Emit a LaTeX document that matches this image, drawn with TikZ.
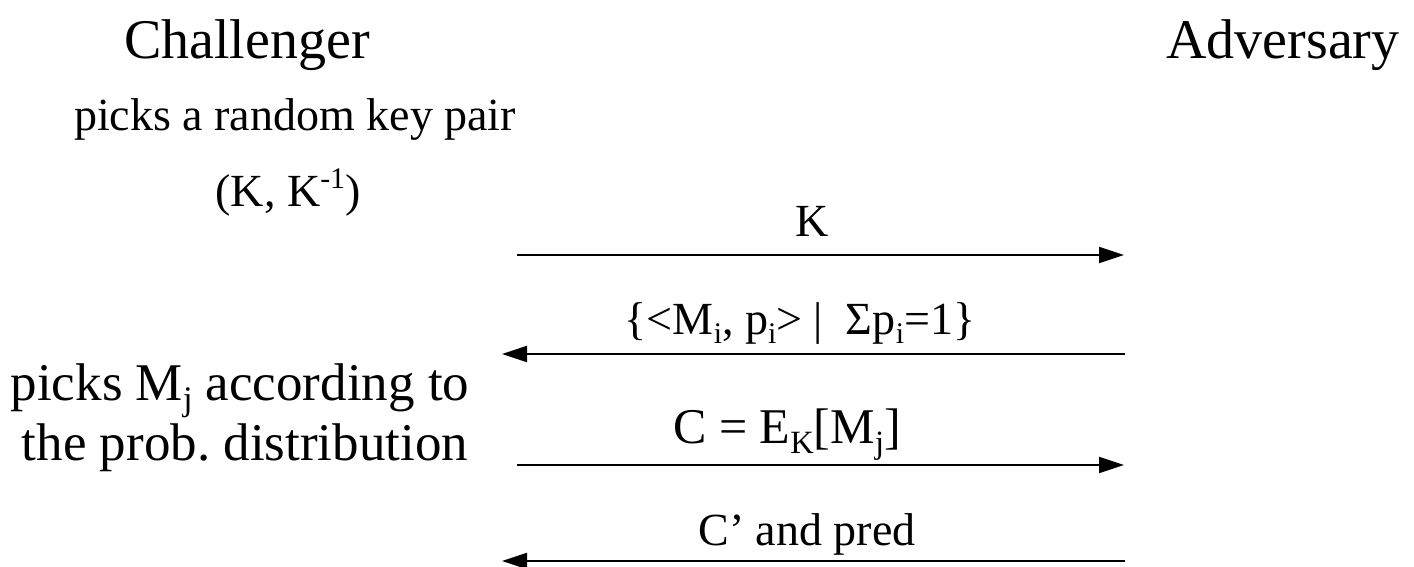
\documentclass[tikz,border=0pt]{standalone}
\usepackage{fontspec}
\setmainfont{Liberation Serif}
\usetikzlibrary{arrows.meta}
\newcommand{\dn}[1]{\raisebox{-0.2em}{\scalebox{0.65}{#1}}}
\newcommand{\up}[1]{\raisebox{0.4em}{\scalebox{0.65}{#1}}}

\begin{document}
\begin{tikzpicture}[x=1pt,y=-1pt,
  big/.style={font=\fontsize{56}{60}\selectfont, inner sep=0pt, anchor=base},
  txt/.style={font=\fontsize{46}{52}\selectfont, inner sep=0pt, anchor=base},
  side/.style={font=\fontsize{53}{56}\selectfont, inner sep=0pt, anchor=base},
  msg/.style={line width=2.2pt, -{Triangle[length=25pt,width=16pt]}}]
\useasboundingbox (0,0) rectangle (1414,567);
% Define the nodes
\node[big] at (247,59) (chal) {Challenger};
\node[big] at (1283,59) (adv) {Adversary};
\node[txt] at (295,131) (pick) {picks a random key pair};
\node[txt] at (288,207) (pair) {(K, K\up{-1})};
\node[side] at (240,400) (pickm) {picks M\dn{j} according to};
\node[side] at (245,460) (prob) {the prob.\ distribution};
\node[txt] at (812,236) (lk) {K};
\node[txt] at (800,334) (ldist) {\{<M\dn{i}, p\dn{i}> \textbar{}\ \ Σp\dn{i}=1\}};
\node[txt, font=\fontsize{50}{56}\selectfont] at (787,443) (lc) {C = E\dn{K}[M\dn{j}]};
\node[txt] at (807,545) (lpred) {C’ and pred};
\coordinate (c1) at (517,255); \coordinate (a1) at (1124,255);
\coordinate (c2) at (502,354); \coordinate (a2) at (1125,354);
\coordinate (c3) at (517,465); \coordinate (a3) at (1124,465);
\coordinate (c4) at (502,561); \coordinate (a4) at (1125,561);
% Draw the paths
\draw[msg] (c1) -- (a1);
\draw[msg] (a2) -- (c2);
\draw[msg] (c3) -- (a3);
\draw[msg] (a4) -- (c4);
\end{tikzpicture}
\end{document}
